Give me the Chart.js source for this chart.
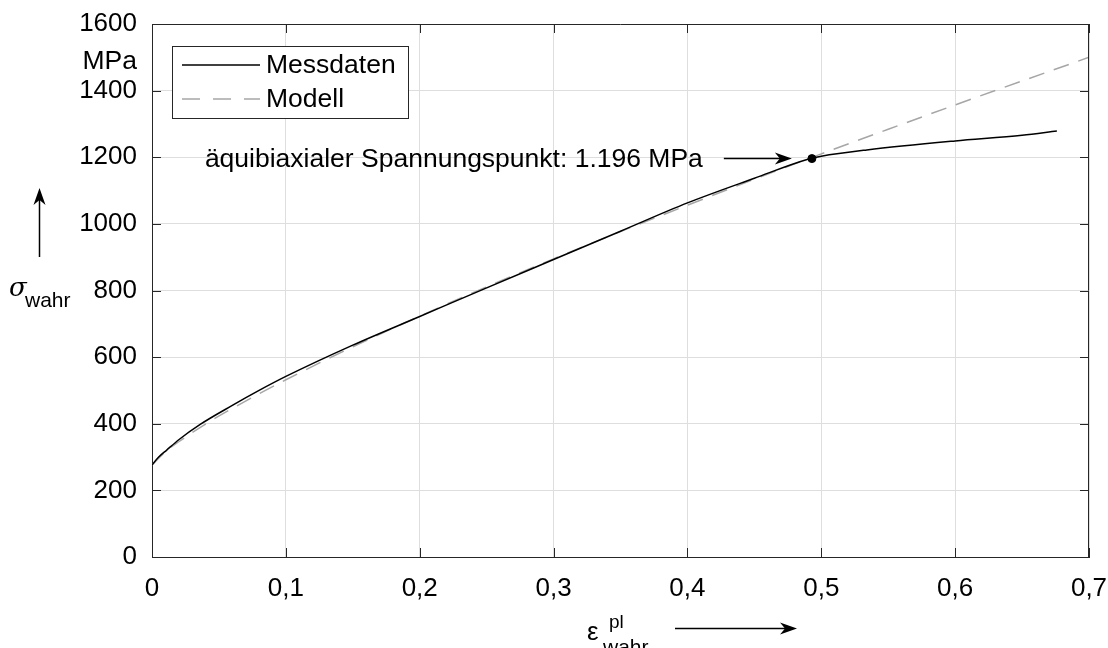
<!DOCTYPE html>
<html>
<head>
<meta charset="utf-8">
<script src="https://cdn.jsdelivr.net/npm/chart.js@4.4.1/dist/chart.umd.min.js"></script>
<style>
  body { margin: 0; background: #fff; }
  canvas { display: block; }
</style>
</head>
<body>
<canvas id="chart" width="1108" height="648"></canvas>
<script>
const messX = [0, 0.005, 0.011, 0.02, 0.036, 0.06, 0.08, 0.1, 0.15, 0.2, 0.25, 0.3, 0.35, 0.4, 0.45, 0.49, 0.5, 0.534, 0.6, 0.65, 0.676];
const messY = [276, 300, 321, 352, 398, 455, 500, 542, 636, 722, 808, 893, 978, 1063, 1137, 1194, 1203, 1222, 1249, 1266, 1279];
const modelX = [0, 0.01, 0.02, 0.04, 0.06, 0.08, 0.1, 0.15, 0.2, 0.25, 0.3, 0.35, 0.4, 0.45, 0.5, 0.55, 0.6, 0.65, 0.7];
const modelY = [276, 316, 346, 399, 446, 490, 532, 631, 723, 811, 895, 977, 1056, 1134, 1210, 1284, 1357, 1429, 1500];
const pointX = [0.493];
const pointY = [1196];
const xTicks = [0, 0.1, 0.2, 0.3, 0.4, 0.5, 0.6, 0.7];
const yTicks = [0, 200, 400, 600, 800, 1000, 1200, 1400, 1600];
const seriesNames = ['Messdaten', 'Modell'];
const noteText = 'äquibiaxialer Spannungspunkt: 1.196 MPa';

const toXY = (xs, ys) => xs.map((x, i) => ({ x: x, y: ys[i] }));
const FONT = '"Liberation Sans", Arial, sans-serif';
const AXIS = '#262626';

function arrowHead(ctx, x, y, ang) {
  ctx.save();
  ctx.translate(x, y);
  ctx.rotate(ang);
  ctx.beginPath();
  ctx.moveTo(0, 0);
  ctx.lineTo(-17, -6);
  ctx.lineTo(-12, 0);
  ctx.lineTo(-17, 6);
  ctx.closePath();
  ctx.fill();
  ctx.restore();
}

const decor = {
  id: 'decor',
  afterDraw(chart) {
    const ctx = chart.ctx;
    const a = chart.chartArea;
    const xs = chart.scales.x, ys = chart.scales.y;
    ctx.save();

    // box + inward ticks
    ctx.strokeStyle = AXIS;
    ctx.lineWidth = 1;
    ctx.beginPath();
    ctx.moveTo(a.left, a.top + 0.5); ctx.lineTo(a.right, a.top + 0.5);
    ctx.moveTo(a.right - 0.5, a.top); ctx.lineTo(a.right - 0.5, a.bottom);
    xTicks.forEach(v => {
      const px = Math.round(xs.getPixelForValue(v)) + 0.5;
      ctx.moveTo(px, a.bottom); ctx.lineTo(px, a.bottom - 9);
      ctx.moveTo(px, a.top); ctx.lineTo(px, a.top + 9);
    });
    yTicks.forEach(v => {
      const py = Math.round(ys.getPixelForValue(v)) + 0.5;
      ctx.moveTo(a.left, py); ctx.lineTo(a.left + 9, py);
      ctx.moveTo(a.right, py); ctx.lineTo(a.right - 9, py);
    });
    ctx.stroke();

    // legend
    const lx = 172, ly = 46, lw = 236, lh = 72;
    ctx.fillStyle = '#fff';
    ctx.fillRect(lx, ly, lw, lh);
    ctx.strokeStyle = AXIS;
    ctx.strokeRect(lx + 0.5, ly + 0.5, lw, lh);
    const ds = chart.data.datasets;
    [0, 1].forEach(i => {
      const yy = ly + 19 + i * 34;
      ctx.strokeStyle = ds[i].borderColor;
      ctx.lineWidth = ds[i].borderWidth;
      ctx.setLineDash(i === 1 ? [18, 13] : []);
      ctx.beginPath();
      ctx.moveTo(182, yy); ctx.lineTo(260, yy);
      ctx.stroke();
      ctx.setLineDash([]);
      ctx.fillStyle = '#000';
      ctx.font = '26.5px ' + FONT;
      ctx.textBaseline = 'middle';
      ctx.textAlign = 'left';
      ctx.fillText(seriesNames[i], 266, yy + 1);
    });

    // annotation
    const tipX = xs.getPixelForValue(0.478);
    const tipY = ys.getPixelForValue(pointY[0]);
    ctx.fillStyle = '#000';
    ctx.strokeStyle = '#000';
    ctx.lineWidth = 1.5;
    ctx.font = '26.5px ' + FONT;
    ctx.textAlign = 'right';
    ctx.textBaseline = 'middle';
    ctx.fillText(noteText, tipX - 89, tipY + 1);
    ctx.beginPath();
    ctx.moveTo(tipX - 68, tipY); ctx.lineTo(tipX - 10, tipY);
    ctx.stroke();
    arrowHead(ctx, tipX, tipY, 0);

    // unit
    ctx.textAlign = 'right';
    ctx.fillText('MPa', 137, 62);

    // y label
    ctx.textAlign = 'left';
    ctx.textBaseline = 'alphabetic';
    ctx.font = 'italic 26px "DejaVu Serif", serif';
    ctx.fillText('σ', 9, 296);
    ctx.font = '21px ' + FONT;
    ctx.fillText('wahr', 25, 307);
    ctx.beginPath();
    ctx.moveTo(39.5, 257); ctx.lineTo(39.5, 200);
    ctx.stroke();
    arrowHead(ctx, 39.5, 188, -Math.PI / 2);

    // x label
    ctx.font = '26px ' + FONT;
    ctx.fillText('ε', 587, 640);
    ctx.font = '19px ' + FONT;
    ctx.fillText('pl', 609, 628);
    ctx.font = '21px ' + FONT;
    ctx.fillText('wahr', 603, 654);
    ctx.beginPath();
    ctx.moveTo(675, 628.5); ctx.lineTo(785, 628.5);
    ctx.stroke();
    arrowHead(ctx, 797, 628.5, 0);

    ctx.restore();
  }
};

new Chart(document.getElementById('chart'), {
  type: 'line',
  data: {
    datasets: [
      { label: seriesNames[0], data: toXY(messX, messY), borderColor: '#000', borderWidth: 1.5,
        pointRadius: 0, cubicInterpolationMode: 'monotone', order: 1 },
      { label: seriesNames[1], data: toXY(modelX, modelY), borderColor: '#a6a6a6', borderWidth: 1.5,
        borderDash: [16, 10], pointRadius: 0, cubicInterpolationMode: 'monotone', order: 2 },
      { label: 'Punkt', data: toXY(pointX, pointY), showLine: false, pointRadius: 4,
        pointBackgroundColor: '#000', pointBorderColor: '#000', borderWidth: 1, order: 0 }
    ]
  },
  options: {
    responsive: false,
    animation: false,
    devicePixelRatio: 1,
    layout: { padding: { left: 0, top: 24, right: 19, bottom: 0 } },
    plugins: { legend: { display: false }, tooltip: { enabled: false } },
    scales: {
      x: {
        type: 'linear', min: 0, max: 0.7,
        afterBuildTicks: s => { s.ticks = xTicks.map(v => ({ value: v })); },
        afterFit: s => { s.height = 91; s.paddingLeft = 0; s.paddingRight = 0; },
        ticks: { color: '#000', font: { family: FONT, size: 26 }, padding: 16,
          maxRotation: 0, callback: v => String(v).replace('.', ',') },
        grid: { color: '#dedede', drawTicks: false },
        border: { color: AXIS, width: 1 }
      },
      y: {
        type: 'linear', min: 0, max: 1600,
        afterBuildTicks: s => { s.ticks = yTicks.map(v => ({ value: v })); },
        afterFit: s => { s.width = 152; s.paddingTop = 0; s.paddingBottom = 0; },
        ticks: { color: '#000', font: { family: FONT, size: 26 }, padding: 15,
          callback: v => String(v) },
        grid: { color: '#dedede', drawTicks: false },
        border: { color: AXIS, width: 1 }
      }
    }
  },
  plugins: [decor]
});
</script>
</body>
</html>
